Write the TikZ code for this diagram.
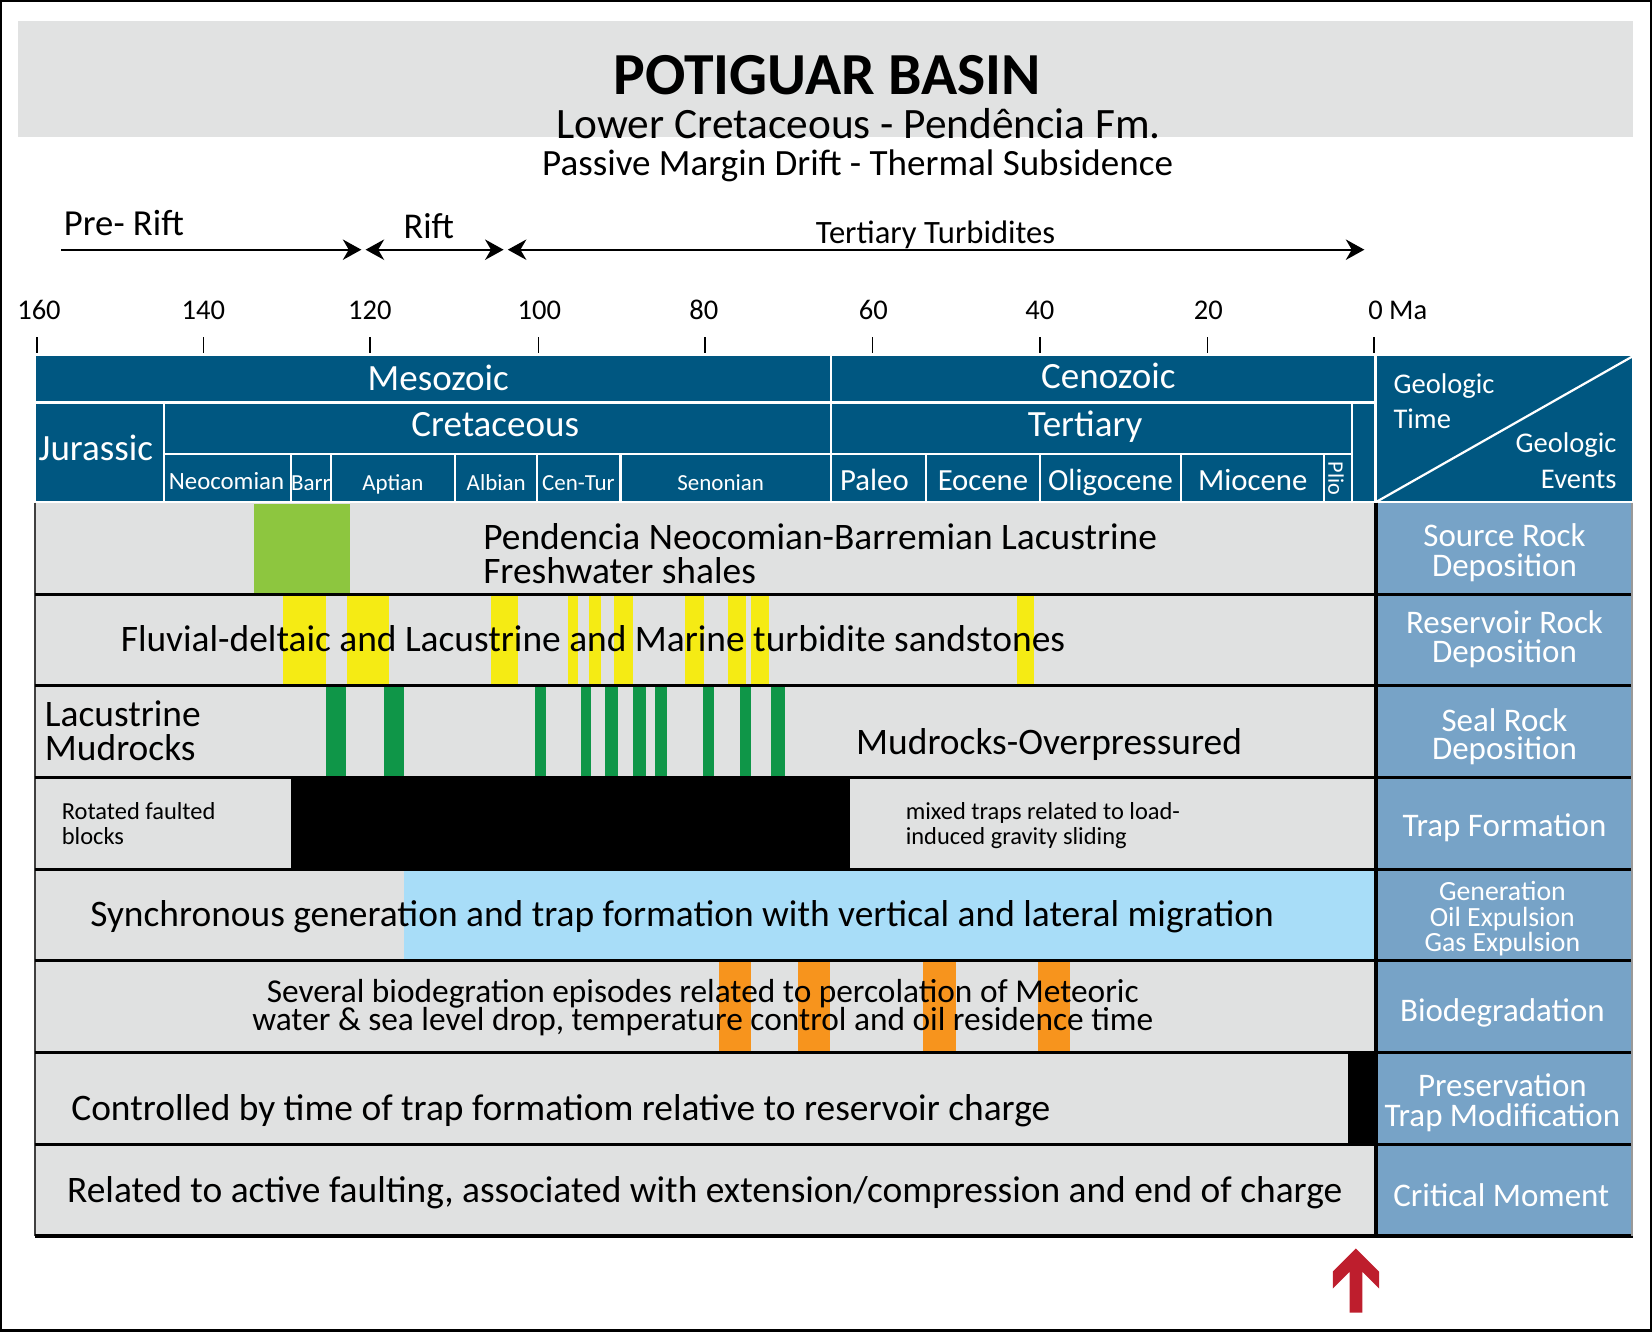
\documentclass[tikz,border=0pt]{standalone}
\usepackage{fontspec}
\setmainfont{Carlito}
\usetikzlibrary{arrows.meta}
\definecolor{hdrblue}{RGB}{0,87,129}
\definecolor{colblue}{RGB}{119,163,199}
\definecolor{rowgray}{RGB}{224,225,225}
\definecolor{titlegray}{RGB}{225,226,226}
\definecolor{srcgreen}{RGB}{141,198,63}
\definecolor{resyellow}{RGB}{245,235,20}
\definecolor{sealgreen}{RGB}{15,150,72}
\definecolor{genblue}{RGB}{168,221,248}
\definecolor{bioorange}{RGB}{247,148,29}
\definecolor{arrowred}{RGB}{190,30,45}
\newcommand\fsz[1]{\fontsize{#1}{#1}\selectfont}
\newcommand\fszb[2]{\fontsize{#1}{#2}\selectfont\lineskiplimit=-100pt\lineskip=0pt}
\begin{document}
\begin{tikzpicture}[x=0.01cm,y=-0.01cm,
  hdr/.style={fill=hdrblue,draw=white,line width=0.6pt},
  htxt/.style={text=white,inner sep=0pt,anchor=mid},
  rowtxt/.style={inner sep=0pt,font=\fsz{10.1}},
  coltxt/.style={text=white,inner sep=0pt,anchor=mid,font=\fsz{8.9}},
  colml/.style={text=white,inner sep=0pt,anchor=north,align=center,yshift=7pt},
  sepline/.style={line width=0.75pt},
  tline/.style={line width=0.6pt,{Stealth[length=5pt,width=5.5pt,inset=1.6pt]}-{Stealth[length=5pt,width=5.5pt,inset=1.6pt]}},
  tlineR/.style={line width=0.6pt,-{Stealth[length=5pt,width=5.5pt,inset=1.6pt]}},
  tick/.style={line width=0.45pt}]
\useasboundingbox (0,0) rectangle (1568,1264);
\draw[line width=1pt] (0.5,0.5) rectangle (1567.5,1263.5);
% title band
\fill[titlegray] (17,20) rectangle (1550,130);
\node[inner sep=0pt,anchor=mid,font=\fsz{16.1}\bfseries] (title) at (785,81) {POTIGUAR BASIN};
\node[inner sep=0pt,anchor=mid,font=\fsz{11.7}] (sub1) at (815,123) {Lower Cretaceous - Pendência Fm.};
\node[inner sep=0pt,anchor=mid,font=\fsz{10}] (sub2) at (814,158) {Passive Margin Drift - Thermal Subsidence};
% timeline arrows
\node[inner sep=0pt,anchor=mid west,font=\fsz{9.9}] (prerift) at (60,215) {Pre- Rift};
\node[inner sep=0pt,anchor=mid,font=\fsz{9.8}] (rift) at (407,218) {Rift};
\node[inner sep=0pt,anchor=mid,font=\fsz{8.8}] (tert) at (888,223) {Tertiary Turbidites};
\coordinate (a1) at (58,237); \coordinate (a2) at (343,237);
\coordinate (b1) at (347,237); \coordinate (b2) at (478,237);
\coordinate (c1) at (482,237); \coordinate (c2) at (1295,237);
\draw[tlineR] (a1) -- (a2);
\draw[tline] (b1) -- (b2);
\draw[tline] (c1) -- (c2);
% axis
\foreach \x/\t in {37/160,193/140,351/120,512/100,668/80,829/60,987/40,1147/20}
  \node[inner sep=0pt,anchor=mid,font=\fsz{7.7}] (ax\t) at (\x,295) {\t};
\node[inner sep=0pt,anchor=mid west,font=\fsz{7.7}] (ax0) at (1298,295) {0 Ma};
\foreach \x in {35,193,351,511,669,828,987,1146,1304}
  \draw[tick] (\x,320) -- (\x,335);
% header boxes
\draw[hdr] (33,337) rectangle (789,382);
\draw[hdr] (789,337) rectangle (1305,382);
\draw[hdr] (33,382) rectangle (156,477);
\draw[hdr] (156,382) rectangle (789,431);
\draw[hdr] (789,382) rectangle (1283,431);
\draw[hdr] (1283,382) rectangle (1305,477);
\foreach \a/\b in {156/276,276/314,314/432,432/510,510/589,589/789,789/879,879/987,987/1121,1121/1257,1257/1283}
  \draw[hdr] (\a,431) rectangle (\b,477);
\draw[hdr] (1306,337) rectangle (1550,477);
\draw[white,line width=0.6pt] (1307,476) -- (1550,338);
\node[htxt,font=\fsz{10}] (meso) at (416,362) {Mesozoic};
\node[htxt,font=\fsz{10}] (ceno) at (1052,360) {Cenozoic};
\node[htxt,font=\fsz{10}] (cret) at (470,406) {Cretaceous};
\node[htxt,font=\fsz{10}] (terti) at (1030,406) {Tertiary};
\node[htxt,font=\fsz{10}] (jura) at (91,429) {Jurassic};
\node[htxt,font=\fsz{6.7}] (neoc) at (215,456) {Neocomian};
\node[htxt,font=\fsz{6.2}] (barr) at (295,457) {Barr};
\node[htxt,font=\fsz{6.2}] (apt) at (373,457) {Aptian};
\node[htxt,font=\fsz{6.2}] (alb) at (471,457) {Albian};
\node[htxt,font=\fsz{6.2}] (centur) at (549,457) {Cen-Tur};
\node[htxt,font=\fsz{6.2}] (seno) at (684,457) {Senonian};
\node[htxt,font=\fsz{8.3}] (paleo) at (830,457) {Paleo};
\node[htxt,font=\fsz{8.3}] (eoc) at (933,457) {Eocene};
\node[htxt,font=\fsz{8.3}] (oligo) at (1054,457) {Oligocene};
\node[htxt,font=\fsz{8.3}] (mioc) at (1189,457) {Miocene};
\node[text=white,inner sep=0pt,rotate=-90,font=\fsz{6}] (plio) at (1268,454) {Plio};
\node[text=white,inner sep=0pt,anchor=mid west,font=\fsz{7.7}] (gt1) at (1322,365) {Geologic};
\node[text=white,inner sep=0pt,anchor=mid west,font=\fsz{7.7}] (gt2) at (1322,398) {Time};
\node[text=white,inner sep=0pt,anchor=mid east,font=\fsz{7.7}] (ge1) at (1535,421) {Geologic};
\node[text=white,inner sep=0pt,anchor=mid east,font=\fsz{7.7}] (ge2) at (1535,455) {Events};
% rows background
\fill[rowgray] (33,477) rectangle (1306,1173);
\fill[colblue] (1306,477) rectangle (1549,1173);
% source
\fill[srcgreen] (241,478) rectangle (332,564);
% reservoir
\foreach \a/\b in {269/309,329/369,466/492,539/549,559/570,583/601,650/668,691/708,713/730,965/981}
  \fill[resyellow] (\a,565) rectangle (\b,651);
% seal
\foreach \a/\b in {309/328,364/383,508/518,551/561,574/587,601/613,622/633,667/678,702/713,732/745}
  \fill[sealgreen] (\a,652) rectangle (\b,738);
% trap
\fill[black] (276,739) rectangle (807,825);
% generation
\fill[genblue] (383,826) rectangle (1306,912);
% biodegradation
\foreach \a/\b in {682/713,757/788,876/907,985/1016}
  \fill[bioorange] (\a,913) rectangle (\b,999);
% preservation
\fill[black] (1279,1000) rectangle (1306,1086);
% grid lines
\draw[line width=0.5pt,black!75] (33,477) -- (33,1173);
\foreach \y in {564,651,738,825,912,999,1086}
  \draw[sepline] (33,\y) -- (1549,\y);
\draw[line width=1.2pt] (33,1173) -- (1550,1173);
\draw[line width=0.85pt] (1306,477) -- (1306,1173);
\draw[line width=0.4pt,black!40] (1549,477) -- (1549,1173);
% row texts
\node[inner sep=0pt,anchor=north west,align=left,yshift=8pt,font=\fszb{10.1}{9.1pt}] (src) at (458,521.3)
  {\rule{0pt}{8pt}Pendencia Neocomian-Barremian Lacustrine\\Freshwater shales};
\node[rowtxt,anchor=mid west] (res) at (114,610) {Fluvial-deltaic and Lacustrine and Marine turbidite sandstones};
\node[inner sep=0pt,anchor=north west,align=left,yshift=8pt,font=\fszb{10.1}{9.1pt}] (seal1) at (42,689.3)
  {\rule{0pt}{8pt}Lacustrine\\Mudrocks};
\node[rowtxt,anchor=mid west] (seal2) at (812,708) {Mudrocks-Overpressured};
\node[inner sep=0pt,anchor=north west,align=left,yshift=5.3pt,font=\fszb{6.6}{6.54pt}] (trap1) at (58,777.4)
  {\rule{0pt}{5.3pt}Rotated faulted\\blocks};
\node[inner sep=0pt,anchor=north west,align=left,yshift=5.3pt,font=\fszb{6.6}{6.54pt}] (trap2) at (859,777.4)
  {\rule{0pt}{5.3pt}mixed traps related to load-\\induced gravity sliding};
\node[rowtxt,anchor=mid west] (gen) at (85,871) {Synchronous generation and trap formation with vertical and lateral migration};
\node[inner sep=0pt,anchor=north,align=center,yshift=7pt,font=\fszb{9}{7.68pt}] (bio) at (667,950.4)
  {\rule{0pt}{7pt}Several biodegration episodes related to percolation of Meteoric\\water \& sea level drop, temperature control and oil residence time};
\node[rowtxt,anchor=mid west] (pres) at (67,1055) {Controlled by time of trap formatiom relative to reservoir charge};
\node[rowtxt,anchor=mid west] (crit) at (63,1133) {Related to active faulting, associated with extension/compression and end of charge};
% right column labels
\node[colml,font=\fszb{8.9}{7.97pt}] (c1) at (1428,518.3) {\rule{0pt}{7pt}Source Rock\\Deposition};
\node[colml,font=\fszb{8.9}{7.97pt}] (c2) at (1428,600.3) {\rule{0pt}{7pt}Reservoir Rock\\Deposition};
\node[colml,font=\fszb{8.9}{7.68pt}] (c3) at (1428,693.3) {\rule{0pt}{7pt}Seal Rock\\Deposition};
\node[coltxt] (c4) at (1428,786) {Trap Formation};
\node[colml,yshift=-1pt,font=\fszb{7.5}{6.83pt}] (c5) at (1426,854.2) {\rule{0pt}{6pt}Generation\\Oil Expulsion\\Gas Expulsion};
\node[coltxt] (c6) at (1426,961) {Biodegradation};
\node[colml,font=\fszb{8.9}{7.97pt}] (c7) at (1426,1040.3) {\rule{0pt}{7pt}Preservation\\Trap Modification};
\node[coltxt] (c8) at (1425,1137) {Critical Moment};
% red arrow
\fill[arrowred] (1287,1185) -- (1309,1207) -- (1309,1223) -- (1293,1207) -- (1293,1246) -- (1281,1246) -- (1281,1207) -- (1265,1223) -- (1265,1207) -- cycle;
\end{tikzpicture}
\end{document}
